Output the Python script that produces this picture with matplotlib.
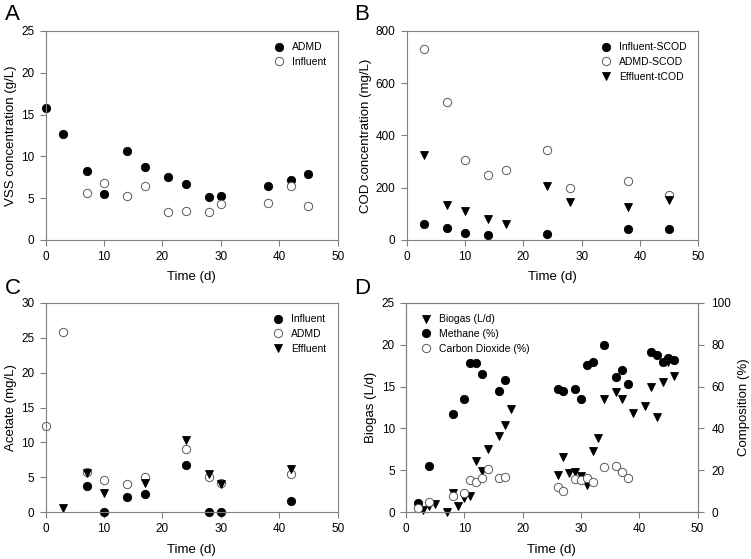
import numpy as np
import matplotlib.pyplot as plt

plt.rcParams['font.family'] = ['Liberation Sans', 'DejaVu Sans']

# Panel A - VSS
a_admd_t = [0, 3, 7, 10, 14, 17, 21, 24, 28, 30, 38, 42, 45]
a_admd = [15.75, 12.7, 8.2, 5.5, 10.6, 8.7, 7.5, 6.7, 5.1, 5.3, 6.5, 7.15, 7.85]
a_infl_t = [7, 10, 14, 17, 21, 24, 28, 30, 38, 42, 45]
a_infl = [5.6, 6.8, 5.3, 6.4, 3.4, 3.5, 3.35, 4.25, 4.45, 6.4, 4.05]

# Panel B - COD
b_t = [3, 7, 10, 14, 17, 24, 28, 38, 45]
b_infl_t = [3, 7, 10, 14, 24, 38, 45]
b_infl = [62, 44, 27, 20, 24, 43, 43]
b_admd = [730, 529, 308, 247, 266, 346, 200, 225, 171]
b_effl = [325, 134, 110, 80, 60, 208, 145, 126, 154]

# Panel C - Acetate
c_infl_t = [7, 10, 14, 17, 24, 28, 30, 42]
c_infl = [3.75, 0, 2.2, 2.6, 6.75, 0, 0, 1.55]
c_admd_t = [0, 3, 7, 10, 14, 17, 24, 28, 30, 42]
c_admd = [12.4, 25.8, 5.7, 4.65, 4.0, 5.0, 9.0, 5.1, 4.2, 5.5]
c_effl_t = [3, 7, 10, 17, 24, 28, 30, 42]
c_effl = [0.65, 5.6, 2.75, 4.15, 10.4, 5.55, 4.05, 6.25]

# Panel D - Biogas and composition
d_gas_t = [3, 4, 5, 7, 8, 9, 10, 11, 12, 13, 14, 16, 17, 18,
           26, 27, 28, 29, 30, 31, 32, 33, 34, 36, 37, 39, 41, 42, 43, 44, 45, 46]
d_gas = [0.3, 0.8, 1.0, 0.0, 2.3, 0.8, 1.7, 2.0, 6.1, 4.9, 7.6, 9.1, 10.4, 12.3,
         4.4, 6.6, 4.7, 4.8, 4.3, 3.3, 7.35, 8.9, 13.5, 14.4, 13.5, 11.8, 12.7, 14.9, 11.4, 15.5, 17.9, 16.2]
d_ch4_t = [2, 4, 8, 10, 11, 12, 13, 16, 17, 26, 27, 29, 30, 31, 32, 34, 36, 37, 38, 42, 43, 44, 45, 46]
d_ch4 = [4.6, 22.3, 47.1, 54.0, 71.0, 71.0, 66.0, 57.8, 63.0, 58.8, 57.8, 58.8, 54.1, 70.3, 71.5, 80.0,
         64.7, 68.0, 61.3, 76.5, 75.0, 71.5, 73.8, 72.7]
d_co2_t = [2, 4, 8, 10, 11, 12, 13, 14, 16, 17, 26, 27, 29, 30, 31, 32, 34, 36, 37, 38]
d_co2 = [1.9, 4.8, 7.9, 9.4, 15.4, 14.3, 16.5, 20.7, 16.2, 17.0, 11.9, 10.3, 15.7, 15.4, 16.2, 14.6,
         21.5, 22.1, 19.1, 16.5]

spine_col = '0.5'
ms = 6
tick_fs = 8.5
lab_fs = 9.5


def style(ax, ylim, yticks):
    ax.set_xlim(0, 50)
    ax.set_xticks(range(0, 51, 10))
    ax.set_ylim(*ylim)
    ax.set_yticks(yticks)
    for s in ax.spines.values():
        s.set_color(spine_col)
        s.set_linewidth(0.8)
    ax.tick_params(direction='out', length=4, width=0.8, color=spine_col,
                   labelsize=tick_fs, pad=4)
    ax.set_xlabel('Time (d)', fontsize=lab_fs, labelpad=6)


def filled(ax, x, y, label):
    ax.plot(x, y, 'o', ms=ms, mfc='black', mec='black', mew=0.6, ls='none',
            label=label, clip_on=False)


def hollow(ax, x, y, label):
    ax.plot(x, y, 'o', ms=ms, mfc='white', mec='0.35', mew=0.7, ls='none',
            label=label, clip_on=False)


def tri(ax, x, y, label):
    ax.plot(x, y, 'v', ms=ms, mfc='black', mec='black', mew=0.6, ls='none',
            label=label, clip_on=False)


fig = plt.figure(figsize=(7.51, 5.59), dpi=100)

axA = fig.add_axes([0.0608, 0.5707, 0.3888, 0.3739])
axB = fig.add_axes([0.5415, 0.5707, 0.3883, 0.3739])
axC = fig.add_axes([0.0608, 0.0835, 0.3888, 0.3750])
axD = fig.add_axes([0.5406, 0.0835, 0.3883, 0.3750])

# A
filled(axA, a_admd_t, a_admd, 'ADMD')
hollow(axA, a_infl_t, a_infl, 'Influent')
style(axA, (0, 25), range(0, 26, 5))
axA.set_ylabel('VSS concentration (g/L)', fontsize=lab_fs, labelpad=3)

# B
filled(axB, b_infl_t, b_infl, 'Influent-SCOD')
hollow(axB, b_t, b_admd, 'ADMD-SCOD')
tri(axB, b_t, b_effl, 'Effluent-tCOD')
style(axB, (0, 800), range(0, 801, 200))
axB.set_ylabel('COD concentration (mg/L)', fontsize=lab_fs, labelpad=3)

# C
filled(axC, c_infl_t, c_infl, 'Influent')
hollow(axC, c_admd_t, c_admd, 'ADMD')
tri(axC, c_effl_t, c_effl, 'Effluent')
style(axC, (0, 30), range(0, 31, 5))
axC.set_ylabel('Acetate (mg/L)', fontsize=lab_fs, labelpad=3)

# D
axD2 = axD.twinx()
tri(axD, d_gas_t, d_gas, 'Biogas (L/d)')
filled(axD2, d_ch4_t, d_ch4, 'Methane (%)')
hollow(axD2, d_co2_t, d_co2, 'Carbon Dioxide (%)')
style(axD, (0, 25), range(0, 26, 5))
axD.set_ylabel('Biogas (L/d)', fontsize=lab_fs, labelpad=3)
axD2.set_ylim(0, 100)
axD2.set_yticks(range(0, 101, 20))
for s in axD2.spines.values():
    s.set_color(spine_col)
    s.set_linewidth(0.8)
axD2.tick_params(direction='out', length=4, width=0.8, color=spine_col,
                 labelsize=tick_fs, pad=6)
axD2.set_ylabel('Composition (%)', fontsize=lab_fs, labelpad=5)

leg_kw = dict(frameon=False, numpoints=1, fontsize=7.5, handletextpad=0.5,
              labelspacing=0.45, borderaxespad=0.7, handlelength=1.6)
axA.legend(loc='upper right', **leg_kw)
axB.legend(loc='upper right', **leg_kw)
axC.legend(loc='upper right', **leg_kw)
h1, l1 = axD.get_legend_handles_labels()
h2, l2 = axD2.get_legend_handles_labels()
axD2.legend(h1 + h2, l1 + l2, loc='upper left', **leg_kw)

for x, y, t in [(0.006, 0.992, 'A'), (0.472, 0.992, 'B'), (0.006, 0.502, 'C'), (0.472, 0.502, 'D')]:
    fig.text(x, y, t, fontsize=16, va='top', ha='left')

fig.savefig('out.png', dpi=100)
